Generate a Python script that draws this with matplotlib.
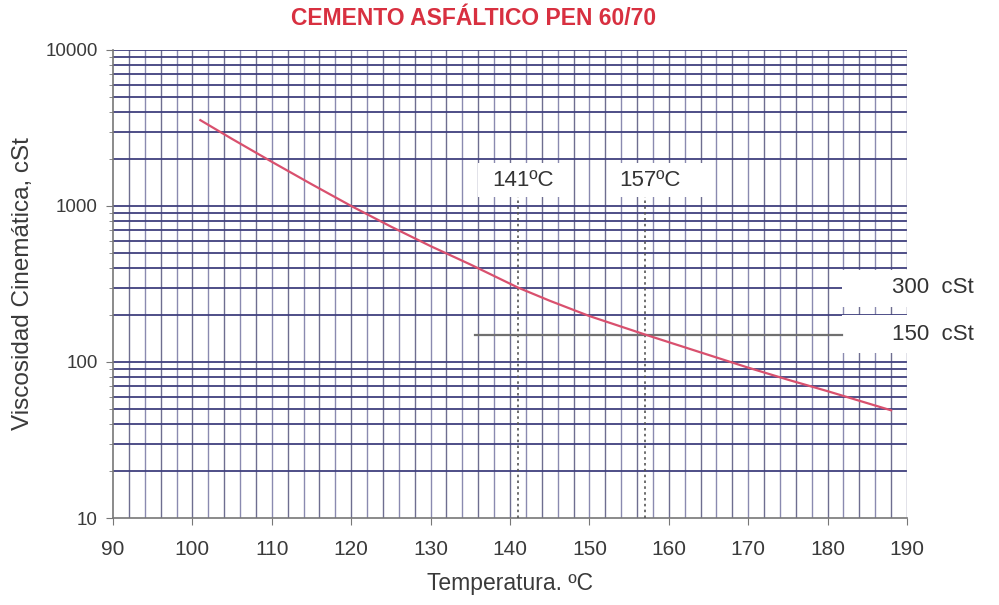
import matplotlib
matplotlib.use("Agg")
import matplotlib.pyplot as plt
import numpy as np
from matplotlib.patches import Rectangle

plt.rcParams['font.family'] = ['Liberation Sans', 'DejaVu Sans']

title = "CEMENTO ASFÁLTICO PEN 60/70"
xlabel = "Temperatura. ºC"
ylabel = "Viscosidad Cinemática, cSt"

temps = [101, 105, 110, 115, 120, 125, 130, 135, 141, 145, 150, 157, 165, 170, 175, 180, 188]
visc = [3550, 2690, 1920, 1380, 1000, 738, 553, 422, 300, 247, 197, 150, 111, 92, 77, 65, 49]

mark_temps = [141, 157]
mark_labels = ["141ºC", "157ºC"]
mark_visc = [300, 150]
visc_labels = ["300  cSt", "150  cSt"]

xticks = [90, 100, 110, 120, 130, 140, 150, 160, 170, 180, 190]
yticks = [10, 100, 1000, 10000]

fig = plt.figure(figsize=(9.99, 6.05), dpi=100)
ax = fig.add_axes([0.1131, 0.1438, 0.7948, 0.7736])
ax.set_yscale('log')
ax.set_xlim(90, 190)
ax.set_ylim(10, 10000)

# grid
for xv in np.arange(92, 190, 2):
    ax.axvline(xv, color='#8a8ab0' if xv % 4 else '#6e6e90', lw=1.0, zorder=1)
for dec in [10, 100, 1000]:
    for m in range(1, 10):
        yv = dec * m
        if yv <= 10:
            continue
        ax.axhline(yv, color='#40407e', lw=1.3, zorder=1)
ax.axhline(10000, color='#40407e', lw=1.3, zorder=1)
ax.axvline(190, color='#6e6e90', lw=1.0, zorder=1)

# white label boxes
ax.add_patch(Rectangle((136.0, 1142), 11.6, 1890 - 1142, facecolor='white', edgecolor='none', zorder=2))
ax.add_patch(Rectangle((152.6, 1142), 13.0, 1890 - 1142, facecolor='white', edgecolor='none', zorder=2))
ax.add_patch(Rectangle((181.8, 225), 12, 389 - 225, facecolor='white', edgecolor='none', zorder=2, clip_on=False))
ax.add_patch(Rectangle((181.8, 114), 12, 200 - 114, facecolor='white', edgecolor='none', zorder=2, clip_on=False))

# marker lines
for t in mark_temps:
    ax.plot([t, t], [10, 1142], color='#555555', lw=1.2, ls=(0, (1.5, 2)), zorder=3)
ax.plot([135.6, 181.8], [mark_visc[1], mark_visc[1]], color='#707070', lw=1.6, zorder=3)

# curve
ax.plot(temps, visc, color='#d9506e', lw=1.6, zorder=4)

# labels
for t, lab in zip(mark_temps, mark_labels):
    ax.text(t + 0.6, 1460, lab, ha='center', va='center', fontsize=16, color='#333333', zorder=5)
for v, lab in zip(mark_visc, visc_labels):
    ax.text(188.1, v, lab, ha='left', va='center', fontsize=16, color='#333333', zorder=5, clip_on=False)

for s in ['top', 'right']:
    ax.spines[s].set_visible(False)
for s in ['left', 'bottom']:
    ax.spines[s].set_color('#777777')
    ax.spines[s].set_linewidth(1.2)

ax.set_xticks(xticks)
ax.set_xticklabels([str(x) for x in xticks])
ax.set_yticks(yticks)
ax.set_yticklabels([str(y) for y in yticks])
ax.tick_params(axis='both', which='major', direction='out', length=5, color='#777777',
               labelcolor='#3a3a3a')
ax.tick_params(axis='x', labelsize=15, pad=11)
ax.tick_params(axis='y', labelsize=13.5, pad=6)
ax.tick_params(axis='y', which='minor', direction='out', length=3, color='#777777')

ax.set_xlabel(xlabel, fontsize=16.5, color='#3a3a3a', labelpad=9)
ax.set_ylabel(ylabel, fontsize=17.5, color='#3a3a3a', labelpad=8)
fig.text(0.4745, 0.970, title, ha='center', va='center', fontsize=16.5, fontweight='bold', color='#d83040')

fig.savefig('out.png', dpi=100, facecolor='white')
